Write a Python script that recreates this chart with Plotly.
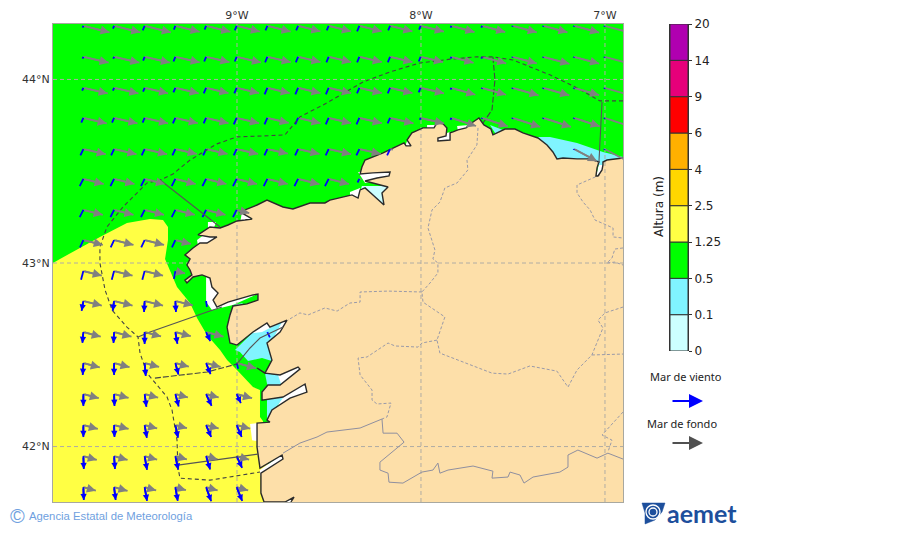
import math
import plotly.graph_objects as go

N = None

# map grid of the arrows
row_lat = [44.292, 44.123, 43.954, 43.790, 43.621, 43.458, 43.289, 43.125,
           42.956, 42.793, 42.624, 42.455, 42.286, 42.117, 41.948, 41.779]
col_lon = [-9.835, -9.668, -9.502, -9.335, -9.168, -9.002, -8.835, -8.668, -8.502,
           -8.335, -8.168, -8.002, -7.835, -7.668, -7.502, -7.335, -7.168, -7.002]

# mar de fondo: length per cell, bearing per row (west part, east part)
swell_len = [
    [27, 27, 27, 25, 25, 24, 24, 23, 23, 23, 23, 24, 24, 24, 25, 25, 26, 25],
    [26, 26, 26, 25, 24, 25, 24, 23, 23, 23, 23, 23, 23, 25, 25, 27, 26, 25],
    [25, 25, 24, 24, 23, 23, 23, 23, 23, 23, 23, 24, 25, 25, 27, 27, 26, 25],
    [24, 24, 24, 23, 23, 23, 22, 23, 23, 23, 24, 24, 26, 27, 29, 29, 27, 25],
    [23, 23, 23, 22, 22, 22, 21, 22, 23, 22, 3, N, N, N, N, N, 26, 22],
    [21, 21, 21, 21, 21, 21, 21, 22, 21, 2],
    [20, 20, 20, 20, 20, 13],
    [20, 20, 20, 16],
    [19, 19, 19, 10],
    [19, 19, 19, 18, 0],
    [18, 18, 17, 16, 18, N, 0],
    [17, 16, 15, 14, 15, 20],
    [16, 15, 14, 13, 13, 16],
    [15, 15, 13, 12, 13, 14],
    [14, 14, 13, 12, 12, 13],
    [13, 14, 12, 11, 12, 12],
]
swell_bearing_west = [104, 103, 103, 103, 103, 104, 104, 104, 104, 104, 105, 105, 105, 105, 106, 106]
swell_bearing_east = [105, 105, 106, 108, 118, 104, 104, 104, 104, 104, 105, 105, 105, 105, 106, 106]

# mar de viento
wind_len = [
    [2, 3, 5, 4, 4, 5, 5, 5, 5, 6, 5, 4, 2, 2, 1, 1, 1, 1],
    [2, 2, 4, 5, 5, 5, 6, 6, 6, 6, 6, 5, 2, 2, 1, 1, 1, 1],
    [3, 3, 4, 5, 6, 6, 7, 7, 7, 6, 6, 5, 2, 1, 1, 1, 1, 1],
    [5, 5, 5, 6, 6, 7, 7, 7, 7, 7, 6, 2, 2, 1, 1, 1, 1, 1],
    [7, 7, 7, 7, 7, 7, 7, 7, 7, 7, 7, N, N, N, N, N, 1, 1],
    [8, 8, 8, 8, 8, 8, 8, 8, 8, 4],
    [8, 8, 8, 8, 8, 8],
    [8, 8, 8, 8],
    [9, 9, 9, 8],
    [10, 10, 11, 11, 6],
    [11, 11, 12, 12, 10, N, 6],
    [12, 12, 13, 12, 12, 6],
    [12, 12, 13, 13, 13, 10],
    [12, 12, 13, 13, 13, 13],
    [13, 13, 14, 14, 14, 13],
    [13, 13, 14, 14, 15, 15],
]
wind_bearing = [
    [202] * 18, [202] * 18, [203] * 18, [204] * 18, [205] * 18, [207] * 18, [207] * 6, [205] * 4,
    [195, 195, 195, 190],
    [190, 188, 183, 177, 172],
    [185, 183, 180, 170, 155, 155, 155],
    [183, 180, 175, 165, 158, 165],
    [180, 178, 172, 165, 155, 155],
    [180, 178, 170, 168, 157, 157],
    [178, 176, 170, 168, 163, 155],
    [178, 173, 170, 170, 160, 158],
]

# coast, from the east edge round to the bottom
coast_lon = [-6.902, -6.989, -7.011, -7.011, -7.016, -7.038, -7.049, -7.043, -7.033, -7.081, -7.152, -7.228,
             -7.261, -7.283, -7.315, -7.364, -7.446, -7.489, -7.543, -7.581, -7.609, -7.620, -7.658, -7.685,
             -7.717, -7.755, -7.799, -7.826, -7.842, -7.842, -7.908, -7.908, -7.864, -7.859, -7.880, -7.913,
             -7.929, -7.989, -8.049, -8.076, -8.054, -8.081, -8.092, -8.206, -8.304, -8.321, -8.331, -8.261,
             -8.168, -8.174, -8.239, -8.304, -8.250, -8.179, -8.212, -8.201, -8.261, -8.304, -8.331, -8.342,
             -8.375, -8.495, -8.522, -8.603, -8.696, -8.750, -8.837, -8.891, -8.984, -8.918, -8.957, -9.000,
             -9.049, -9.092, -9.147, -9.212, -9.147, -9.109, -9.163, -9.201, -9.239, -9.283, -9.255, -9.272,
             -9.255, -9.245, -9.283, -9.272, -9.239, -9.190, -9.147, -9.136, -9.103, -9.130, -9.109, -9.049,
             -8.913, -8.886, -8.886, -8.946, -9.022, -9.038, -9.054, -9.038, -9.000, -8.946, -8.913, -8.837,
             -8.821, -8.728, -8.766, -8.837, -8.810, -8.848, -8.891, -8.848, -8.766, -8.668, -8.658, -8.766,
             -8.832, -8.864, -8.864, -8.750, -8.630, -8.620, -8.712, -8.810, -8.837, -8.821, -8.891, -8.891,
             -8.875, -8.755, -8.750, -8.870, -8.870, -8.853, -8.739, -8.690, -8.707]
coast_lat = [43.572, 43.561, 43.550, 43.534, 43.507, 43.474, 43.474, 43.518, 43.550, 43.567, 43.567, 43.572,
             43.567, 43.605, 43.643, 43.681, 43.709, 43.730, 43.730, 43.714, 43.698, 43.730, 43.752, 43.790,
             43.768, 43.736, 43.725, 43.714, 43.709, 43.670, 43.665, 43.681, 43.692, 43.736, 43.758, 43.763,
             43.736, 43.736, 43.709, 43.670, 43.638, 43.638, 43.654, 43.600, 43.561, 43.523, 43.485, 43.491,
             43.496, 43.474, 43.463, 43.447, 43.431, 43.414, 43.382, 43.316, 43.371, 43.409, 43.398, 43.354,
             43.371, 43.343, 43.327, 43.327, 43.294, 43.305, 43.343, 43.316, 43.278, 43.240, 43.234, 43.229,
             43.207, 43.191, 43.196, 43.153, 43.142, 43.142, 43.109, 43.109, 43.082, 43.044, 43.022, 42.989,
             42.962, 42.935, 42.907, 42.891, 42.924, 42.935, 42.918, 42.869, 42.836, 42.798, 42.760, 42.787,
             42.826, 42.831, 42.798, 42.777, 42.766, 42.717, 42.651, 42.564, 42.553, 42.597, 42.624, 42.673,
             42.651, 42.689, 42.624, 42.564, 42.471, 42.400, 42.428, 42.400, 42.390, 42.433, 42.422, 42.335,
             42.335, 42.297, 42.253, 42.270, 42.341, 42.297, 42.264, 42.199, 42.144, 42.133, 42.128, 41.997,
             41.883, 41.954, 41.932, 41.855, 41.747, 41.698, 41.698, 41.725, 41.698]
land_corner_lon = [-8.707, -6.902]
land_corner_lat = [41.698, 41.698]

# wave height areas
yellow_lon = [-10.0, -9.962, -9.745, -9.598, -9.473, -9.402, -9.375, -9.375, -9.391, -9.326, -9.255, -9.217,
              -9.163, -9.092, -9.054, -9.000, -8.913, -8.875, -8.875, -8.859, -8.832, -8.832, -10.0]
yellow_lat = [43.000, 43.022, 43.142, 43.218, 43.240, 43.234, 43.196, 43.125, 43.022, 42.869, 42.782, 42.700,
              42.608, 42.526, 42.471, 42.417, 42.324, 42.308, 42.161, 42.139, 42.000, 41.698, 41.698]

cyan_areas = [
    ([-7.370, -7.299, -7.152, -7.011, -6.902, -6.902, -7.370], [43.687, 43.687, 43.654, 43.605, 43.578, 43.534, 43.534]),
    ([-7.625, -7.554, -7.587], [43.752, 43.725, 43.692]),
    ([-9.022, -8.967, -9.011], [42.771, 42.782, 42.733]),
    ([-9.011, -8.918, -8.864, -8.755, -8.793, -8.793, -8.864, -8.940, -8.984],
     [42.526, 42.618, 42.624, 42.678, 42.608, 42.460, 42.482, 42.466, 42.515]),
    ([-8.848, -8.777, -8.755, -8.832], [42.400, 42.390, 42.324, 42.319]),
    ([-8.837, -8.739, -8.810, -8.837], [42.253, 42.281, 42.182, 42.144]),
]
pale_areas = [
    ([-8.321, -8.168, -8.196, -8.266, -8.348], [43.420, 43.420, 43.305, 43.365, 43.343]),
]
white_areas = [
    ([-9.168, -9.168, -9.136, -9.022, -8.864, -9.065, -9.136], [42.924, 42.787, 42.744, 42.771, 42.842, 42.880, 42.951]),
    ([-8.929, -8.864, -8.712, -8.766], [42.602, 42.678, 42.700, 42.602]),
    ([-8.777, -8.630, -8.630, -8.777], [42.390, 42.460, 42.406, 42.319]),
    ([-8.750, -8.603, -8.603, -8.832], [42.281, 42.362, 42.281, 42.117]),
    ([-8.929, -8.886, -8.864, -8.918], [42.123, 42.128, 42.024, 42.035]),
    ([-8.875, -8.739, -8.739, -8.875], [41.872, 41.970, 41.915, 41.839]),
    ([-8.739, -8.685, -8.685], [41.698, 41.736, 41.698]),
    ([-8.342, -8.158, -8.158, -8.304], [43.496, 43.507, 43.469, 43.436]),
    ([-8.386, -8.331, -8.331, -8.386], [43.387, 43.409, 43.343, 43.360]),
    ([-9.217, -9.174, -9.103, -9.147, -9.212], [43.125, 43.158, 43.147, 43.093, 43.093]),
    ([-8.973, -8.902, -8.984], [43.278, 43.223, 43.213]),
    ([-9.158, -9.114, -9.125, -9.158], [43.223, 43.223, 43.191, 43.191]),
    ([-7.967, -7.918, -7.929, -7.967], [43.752, 43.752, 43.725, 43.725]),
    ([-7.804, -7.739, -7.750, -7.799], [43.747, 43.752, 43.725, 43.719]),
    ([-7.321, -7.288, -7.266, -7.299], [43.632, 43.632, 43.594, 43.594]),
    ([-7.179, -7.103, -7.081, -7.190], [43.594, 43.594, 43.561, 43.561]),
    ([-7.049, -7.033, -7.000, -6.995, -7.016], [43.469, 43.540, 43.578, 43.534, 43.474]),
    ([-8.073, -8.050, -8.060, -8.085], [43.672, 43.650, 43.630, 43.640]),
    ([-7.915, -7.838, -7.838, -7.915], [43.690, 43.715, 43.660, 43.660]),
]

# zones off the coast
zone_dash_lon = [-6.902, -7.027, -7.152, -7.299, -7.500, -7.609, -7.696, -7.826, -8.005, -8.168, -8.315, -8.386,
                 -8.511, -8.658, -8.739, -8.859, -9.000, -9.109, -9.255, -9.348, -9.418, -9.489, -9.620, -9.707,
                 -9.745, -9.745, -9.717, -9.679, -9.598, -9.538, -9.527, -9.489, -9.380, -9.353, -9.326, -9.321,
                 -9.310, -9.147, -8.875]
zone_dash_lat = [43.883, 43.883, 43.954, 44.025, 44.106, 44.123, 44.123, 44.112, 44.090, 44.041, 43.986, 43.943,
                 43.872, 43.796, 43.698, 43.692, 43.687, 43.649, 43.561, 43.485, 43.452, 43.436, 43.305, 43.196,
                 43.087, 43.000, 42.853, 42.744, 42.651, 42.597, 42.509, 42.400, 42.270, 42.199, 42.035, 41.888,
                 41.828, 41.817, 41.861]
cut_dash = [
    ([-9.446, -9.163, -9.000], [42.373, 42.406, 42.450]),
    ([-7.609, -7.598, -7.614, -7.663], [44.123, 43.997, 43.834, 43.763]),
]
cut_solid = [
    ([-9.418, -9.092], [43.452, 43.196]),
    ([-9.538, -9.473, -9.163, -9.082], [42.597, 42.624, 42.733, 42.760]),
    ([-9.000, -8.929, -8.875, -8.750], [42.450, 42.537, 42.591, 42.651]),
    ([-9.321, -8.886], [41.899, 41.959]),
    ([-7.016, -7.033], [43.877, 43.545]),
]

# inland borders
province_lines = [
    ([-7.690, -7.696, -7.750, -7.745, -7.804, -7.870, -7.897, -7.940, -7.962, -7.924, -7.935, -7.908, -7.908, -7.951,
      -7.995, -7.989, -7.870, -7.913, -7.897, -7.761, -7.614, -7.527, -7.408, -7.261, -7.201, -7.152, -7.071, -7.011,
      -7.038, -7.000, -6.902],
     [43.736, 43.643, 43.561, 43.507, 43.436, 43.409, 43.332, 43.289, 43.191, 43.071, 43.022, 43.000, 42.946, 42.891,
      42.842, 42.787, 42.706, 42.580, 42.509, 42.455, 42.400, 42.395, 42.439, 42.411, 42.324, 42.417, 42.499, 42.646,
      42.689, 42.728, 42.760]),
    ([-7.995, -8.179, -8.331, -8.331, -8.386, -8.456, -8.522, -8.614, -8.658, -8.723],
     [42.842, 42.847, 42.842, 42.787, 42.782, 42.738, 42.755, 42.717, 42.728, 42.689]),
    ([-7.913, -7.995, -8.016, -8.141, -8.179, -8.293, -8.342, -8.331, -8.266, -8.266, -8.239, -8.163, -8.185, -8.212],
     [42.580, 42.564, 42.542, 42.548, 42.564, 42.488, 42.482, 42.390, 42.308, 42.253, 42.232, 42.237, 42.161, 42.150]),
    ([-7.071, -6.902], [42.499, 42.504]),
    ([-7.027, -7.152, -7.152, -7.119, -7.081, -7.054, -6.956, -6.956, -6.902],
     [43.480, 43.425, 43.382, 43.332, 43.289, 43.234, 43.191, 43.142, 43.136]),
    ([-6.902, -6.946, -6.962, -6.989, -6.946, -6.902], [43.082, 43.076, 43.027, 43.000, 43.005, 42.989]),
    ([-6.902, -7.016, -6.962, -6.984], [42.188, 42.063, 42.035, 41.970]),
]
portugal_lon = [-8.750, -8.658, -8.565, -8.511, -8.331, -8.212, -8.206, -8.130, -8.092, -8.130, -8.223, -8.223,
                -8.179, -8.174, -8.098, -7.995, -7.935, -7.908, -7.897, -7.853, -7.717, -7.609, -7.614, -7.527,
                -7.516, -7.462, -7.440, -7.391, -7.245, -7.201, -7.201, -7.147, -7.043, -6.984, -6.902]
portugal_lat = [41.964, 42.019, 42.052, 42.079, 42.101, 42.150, 42.073, 42.073, 42.024, 41.992, 41.915, 41.872,
                41.855, 41.806, 41.801, 41.861, 41.872, 41.910, 41.855, 41.872, 41.894, 41.866, 41.828, 41.834,
                41.861, 41.845, 41.801, 41.834, 41.861, 41.888, 41.954, 41.981, 41.937, 41.964, 41.932]

# axes and scale
lon_ticks = [-9, -8, -7]
lon_labels = ["9°W", "8°W", "7°W"]
lat_ticks = [42, 43, 44]
lat_labels = ["42°N", "43°N", "44°N"]
level_labels = ["0", "0.1", "0.5", "1.25", "2.5", "4", "6", "9", "14", "20"]
level_colors = ["#ccffff", "#80f4ff", "#00ff00", "#ffff44", "#ffd700", "#ffb000", "#ff0000", "#e6007a", "#b000b0"]

UNIT = 1 / 184.0  # degrees per unit of arrow length
LON_MAX = -6.902
W, H = 900.0, 533.0


def xp(px):
    return px / W


def yp(py):
    return 1 - py / H


def add_arrows(fig, lengths, bearing_of, color, head_from, line_width, head_scale):
    seg_x, seg_y = [], []
    for r, lat in enumerate(row_lat):
        for c, length in enumerate(lengths[r]):
            if length is None or length == 0:
                continue
            b = math.radians(bearing_of(r, c))
            x1 = col_lon[c] + length * math.sin(b) * UNIT
            y1 = lat + length * math.cos(b) * UNIT
            seg_x += [col_lon[c], x1, None]
            seg_y += [lat, y1, None]
            # head goes on an annotation, tips off the map would not show anyway
            if length >= head_from and x1 < LON_MAX:
                fig.add_annotation(x=x1, y=y1, ax=col_lon[c], ay=lat,
                                   xref="x", yref="y", axref="x", ayref="y", text="", showarrow=True,
                                   arrowhead=2, arrowsize=head_scale, arrowwidth=line_width, arrowcolor=color)
    fig.add_trace(go.Scatter(x=seg_x, y=seg_y, mode="lines", line=dict(color=color, width=line_width),
                             hoverinfo="skip"))


def swell_bearing(r, c):
    return swell_bearing_east[r] if c >= 12 else swell_bearing_west[r]


def area(lon, lat, color):
    return go.Scatter(x=lon, y=lat, mode="lines", fill="toself", fillcolor=color,
                      line=dict(width=0, color=color), hoverinfo="skip")


def border(lon, lat, color, width, dash="solid"):
    return go.Scatter(x=lon, y=lat, mode="lines", line=dict(color=color, width=width, dash=dash), hoverinfo="skip")


fig = go.Figure()
fig.add_trace(area(yellow_lon, yellow_lat, "#ffff44"))
for lon, lat in white_areas:
    fig.add_trace(area(lon, lat, "white"))
for lon, lat in pale_areas:
    fig.add_trace(area(lon, lat, "#ccffff"))
for lon, lat in cyan_areas:
    fig.add_trace(area(lon, lat, "#80f4ff"))
fig.add_trace(area(coast_lon + land_corner_lon, coast_lat + land_corner_lat, "#fddfa9"))

for t in lon_ticks:
    fig.add_trace(border([t, t], [41.698, 44.302], "#b0aca4", 1, "4px,3px"))
for t in lat_ticks:
    fig.add_trace(border([-10, LON_MAX], [t, t], "#b0aca4", 1, "4px,3px"))

for lon, lat in province_lines:
    fig.add_trace(border(lon, lat, "#9a9aa8", 1, "3px,2px"))
fig.add_trace(border(portugal_lon, portugal_lat, "#8f8f9f", 1))
fig.add_trace(border(coast_lon, coast_lat, "#2a2a2a", 1.4))

add_arrows(fig, swell_len, swell_bearing, "#808080", 8, 1.8, 1.0)
add_arrows(fig, wind_len, lambda r, c: wind_bearing[r][c], "#0000ff", 10, 1.8, 0.7)

fig.add_trace(border(zone_dash_lon, zone_dash_lat, "#444444", 1.1, "4px,3px"))
for lon, lat in cut_dash:
    fig.add_trace(border(lon, lat, "#444444", 1.1, "6px,2px"))
for lon, lat in cut_solid:
    fig.add_trace(border(lon, lat, "#555555", 1.1))

# scale bar on its own axes
fig.add_trace(go.Bar(x=[0] * len(level_colors), y=[1] * len(level_colors), base=list(range(len(level_colors))),
                     width=1, marker=dict(color=level_colors, line=dict(color="#333333", width=1)),
                     xaxis="x2", yaxis="y2", hoverinfo="skip"))

tick_font = dict(family="DejaVu Sans", size=11, color="#333333")
fig.update_layout(
    width=900, height=533, margin=dict(l=0, r=0, t=0, b=0, autoexpand=False), showlegend=False,
    paper_bgcolor="white", plot_bgcolor="#00ff00", barmode="overlay",
    xaxis=dict(domain=[xp(53), xp(623)], range=[-10, LON_MAX], side="top", tickvals=lon_ticks, ticktext=lon_labels,
               showgrid=False, zeroline=False, ticks="", tickfont=tick_font, showline=True, mirror=True,
               linecolor="#a8a8a0", linewidth=1),
    yaxis=dict(domain=[yp(502), yp(24)], range=[41.698, 44.302], tickvals=lat_ticks, ticktext=lat_labels,
               showgrid=False, zeroline=False, ticks="", tickfont=tick_font, showline=True, mirror=True,
               linecolor="#a8a8a0", linewidth=1),
    xaxis2=dict(domain=[xp(670), xp(688)], range=[-0.5, 0.5], anchor="y2", visible=False),
    yaxis2=dict(domain=[yp(351), yp(24)], range=[0, 9], anchor="x2", side="right", tickvals=list(range(10)),
                ticktext=level_labels, ticks="outside", ticklen=3, tickcolor="#333333", showgrid=False, zeroline=False,
                tickfont=dict(family="DejaVu Sans", size=12, color="#222222"), showline=True, linecolor="#333333",
                mirror=True),
)


def note(x, y, text, size, color="#222222", family="Noto Sans", anchor="center", angle=0, weight=None):
    fig.add_annotation(xref="paper", yref="paper", x=xp(x), y=yp(y), text=text, showarrow=False, textangle=angle,
                       xanchor=anchor, yanchor="middle",
                       font=dict(family=family, size=size, color=color, weight=weight))


def legend_arrow(y, color):
    fig.add_annotation(xref="paper", yref="paper", x=xp(703), y=yp(y), ax=-32, ay=0, text="", showarrow=True,
                       arrowhead=2, arrowsize=1.4, arrowwidth=2, arrowcolor=color)


note(659, 207, "Altura (m)", 12, family="DejaVu Sans", angle=-90)
note(686, 376, "Mar de viento", 11)
legend_arrow(401, "#0000ff")
note(682, 423, "Mar de fondo", 11)
legend_arrow(443, "#505050")
note(17, 516, "©", 20, color="#6f9fe0", family="Liberation Sans")
note(27, 516, "Agencia Estatal de Meteorología", 11.3, color="#6f9fe0", family="Liberation Sans", anchor="left")
note(702, 513, "aemet", 25, color="#1d4f9c", family="Lato", weight="bold")

# logo mark: rough outline of the peninsula with a white swirl
logo = "#1d4f9c"
outline = "M %f,%f L %f,%f L %f,%f L %f,%f L %f,%f L %f,%f Z" % (
    xp(642), yp(503), xp(665), yp(503), xp(662), yp(512), xp(655), yp(520), xp(645), yp(524), xp(645), yp(513))
fig.add_shape(type="path", path=outline, xref="paper", yref="paper", fillcolor=logo, line=dict(color=logo, width=0.5))
for x0, y0, x1, y1 in [(646, 505, 660, 519), (649, 508, 657, 516)]:
    fig.add_shape(type="circle", xref="paper", yref="paper", x0=xp(x0), x1=xp(x1), y0=yp(y0), y1=yp(y1),
                  line=dict(color="white", width=1.3))

fig.write_html("out.html", config=dict(displayModeBar=False), post_script="document.body.style.margin='0';")
